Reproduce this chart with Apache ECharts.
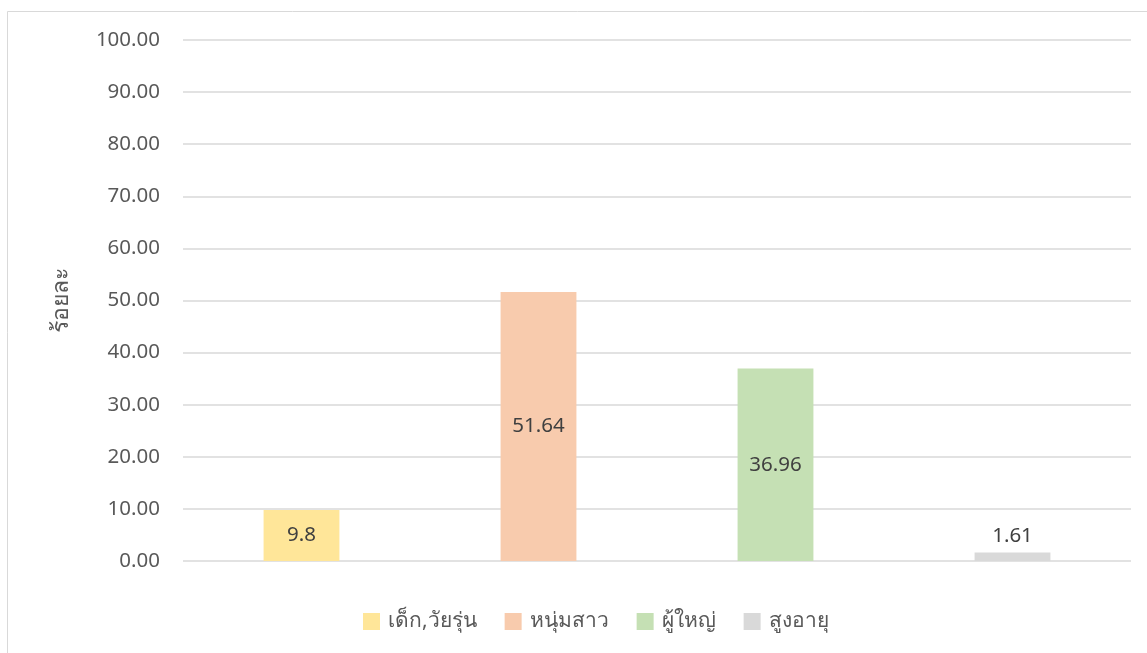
<!DOCTYPE html>
<html>
<head>
<meta charset="utf-8">
<script src="https://cdn.jsdelivr.net/npm/echarts@6/dist/echarts.min.js"></script>
<style>
  html, body { margin: 0; padding: 0; background: #ffffff; }
  #chart { width: 1147px; height: 653px; }
</style>
</head>
<body>
<div id="chart"></div>
<script>
// Age groups and their percentages
const groups = ['เด็ก,วัยรุ่น', 'หนุ่มสาว', 'ผู้ใหญ่', 'สูงอายุ'];
const values = [9.8, 51.64, 36.96, 1.61];
const colors = ['#ffe699', '#f8cbad', '#c5e0b4', '#d9d9d9'];
const labelPositions = ['inside', 'inside', 'inside', 'top'];
const yTicks = { min: 0, max: 100, interval: 10 };

const FONT = '"Noto Sans", "Open Sans", "DejaVu Sans", sans-serif';

// One series per group so each gets its own legend entry; stacking keeps
// every bar centred in its own category slot.
const series = groups.map((name, i) => ({
  name: name,
  type: 'bar',
  stack: 'all',
  barWidth: '32%',
  itemStyle: { color: colors[i] },
  label: {
    show: true,
    position: labelPositions[i],
    color: '#404040',
    fontSize: 20.5,
    fontFamily: FONT,
    distance: 6,
    formatter: p => String(p.value)
  },
  data: groups.map((g, j) => (j === i ? values[i] : '-'))
}));

const chart = echarts.init(document.getElementById('chart'), null, { renderer: 'canvas' });
chart.setOption({
  backgroundColor: '#ffffff',
  animation: false,
  graphic: [
    {
      type: 'polyline',
      shape: { points: [[7.5, 653], [7.5, 11.5], [1147, 11.5]] },
      style: { stroke: '#d9d9d9', fill: null, lineWidth: 1 },
      silent: true
    }
  ],
  grid: { left: 183, right: 16, top: 40, bottom: 92, containLabel: false },
  legend: {
    data: groups,
    left: 358,
    top: 606,
    itemWidth: 17,
    itemHeight: 17,
    itemGap: 28,
    icon: 'rect',
    textStyle: { color: '#595959', fontSize: 21, fontFamily: FONT, padding: [0, 0, 0, 3] }
  },
  xAxis: {
    type: 'category',
    data: groups,
    axisLine: { show: false },
    axisTick: { show: false },
    axisLabel: { show: false }
  },
  yAxis: {
    type: 'value',
    min: yTicks.min,
    max: yTicks.max,
    interval: yTicks.interval,
    name: 'ร้อยละ',
    nameLocation: 'middle',
    nameRotate: 90,
    nameGap: 110,
    nameTextStyle: { color: '#595959', fontSize: 23, fontFamily: FONT },
    axisLine: { show: false },
    axisTick: { show: false },
    axisLabel: {
      color: '#595959',
      fontSize: 20.5,
      fontFamily: FONT,
      margin: 23,
      formatter: v => v.toFixed(2)
    },
    splitLine: { lineStyle: { color: '#d9d9d9', width: 1.5 } }
  },
  series: series
});
</script>
</body>
</html>
